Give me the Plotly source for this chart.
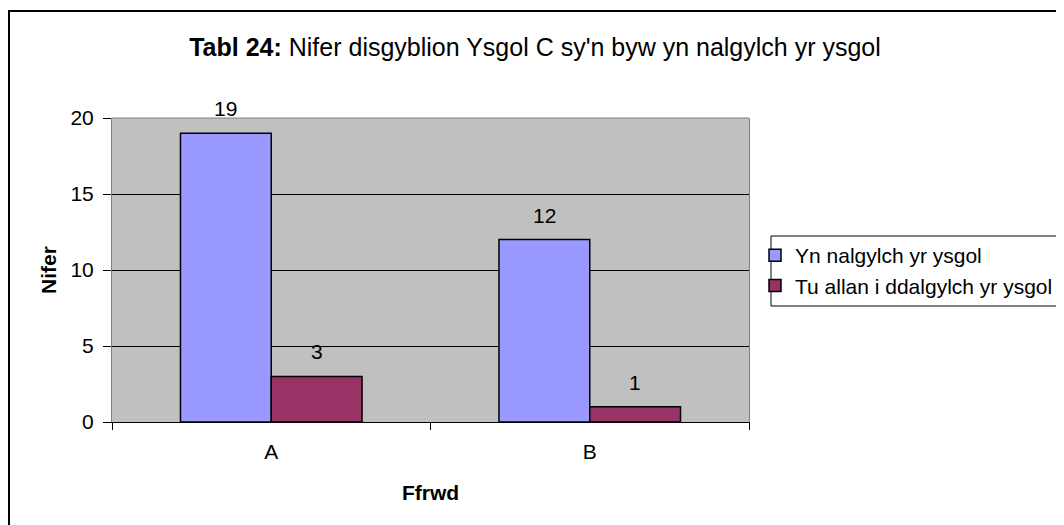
import plotly.graph_objects as go

categories = ["A", "B"]
series_names = ["Yn nalgylch yr ysgol", "Tu allan i ddalgylch yr ysgol"]
inside_vals = [19, 12]
outside_vals = [3, 1]
y_ticks = [0, 5, 10, 15, 20]

colors = ["#9999FF", "#993366"]
FONT = "Liberation Sans, Arial, sans-serif"
W, H = 1064, 525
OFF = 8  # page body margin
L, R, T, B = 112 - OFF, W - (749 - OFF), 118 - OFF, H - (422 - OFF)
bargap = 0.43

fig = go.Figure()
for name, vals, col in zip(series_names, [inside_vals, outside_vals], colors):
    fig.add_trace(go.Bar(
        x=categories, y=vals, name=name,
        marker=dict(color=col, line=dict(color="black", width=1.5)),
    ))

# data labels above bars
half = (1 - bargap) / 4
annotations = []
for si, vals in enumerate([inside_vals, outside_vals]):
    off = -half if si == 0 else half
    for ci, v in enumerate(vals):
        annotations.append(dict(
            x=ci + off, y=v, xref="x", yref="y", text=str(v),
            showarrow=False, yanchor="bottom", yshift=11,
            font=dict(family=FONT, size=21, color="black"),
        ))

pw = W - L - R
ph = H - T - B


def px_x(p):
    return (p - OFF - L) / pw


def px_y(p):
    return (H - B - (p - OFF)) / ph


fig.update_layout(
    width=W, height=H,
    margin=dict(l=L, r=R, t=T, b=B, autoexpand=False),
    paper_bgcolor="white", plot_bgcolor="#C0C0C0",
    barmode="group", bargap=bargap, bargroupgap=0,
    font=dict(family=FONT, size=21, color="black"),
    title=dict(
        text="<b>Tabl 24:</b> Nifer disgyblion Ysgol C sy'n byw yn nalgylch yr ysgol",
        x=(535 - OFF) / W, xref="container", xanchor="center",
        y=1 - (47 - OFF) / H, yref="container", yanchor="middle",
        font=dict(family=FONT, size=25, color="black"),
    ),
    xaxis=dict(
        type="category", showgrid=False,
        showline=True, linecolor="black", linewidth=1,
        ticks="outside", tickson="boundaries", ticklen=7, tickcolor="black",
        tickfont=dict(size=21), ticklabelstandoff=11,
        title=dict(text="<b>Ffrwd</b>", font=dict(size=21), standoff=23),
    ),
    yaxis=dict(
        range=[0, 20], tickvals=y_ticks,
        showgrid=True, gridcolor="black", gridwidth=1,
        showline=True, linecolor="#808080", linewidth=1, mirror=True,
        ticks="outside", ticklen=8, tickcolor="black",
        tickfont=dict(size=21), ticklabelstandoff=5,
        zeroline=False,
        title=dict(text="<b>Nifer</b>", font=dict(size=21), standoff=8),
    ),
    legend=dict(
        x=px_x(755), y=px_y(235), xanchor="left", yanchor="top",
        bgcolor="rgba(0,0,0,0)", borderwidth=0,
        font=dict(size=21), itemwidth=30, tracegroupgap=0,
    ),
    annotations=annotations,
    shapes=[
        # plot area top border
        dict(type="line", xref="paper", yref="paper", x0=0, x1=1, y0=1, y1=1,
             line=dict(color="#808080", width=1)),
        # legend box
        dict(type="rect", xref="paper", yref="paper",
             x0=px_x(771), x1=px_x(W + 30), y0=px_y(306), y1=px_y(236),
             line=dict(color="black", width=1), fillcolor="white", layer="above"),
        # outer chart border (clipped at right/bottom like the reference)
        dict(type="rect", xref="paper", yref="paper",
             x0=px_x(9), x1=px_x(W + 30),
             y0=px_y(H + 30), y1=px_y(11),
             line=dict(color="black", width=2), fillcolor="rgba(0,0,0,0)", layer="below"),
    ],
)

fig.write_html("out.html")
